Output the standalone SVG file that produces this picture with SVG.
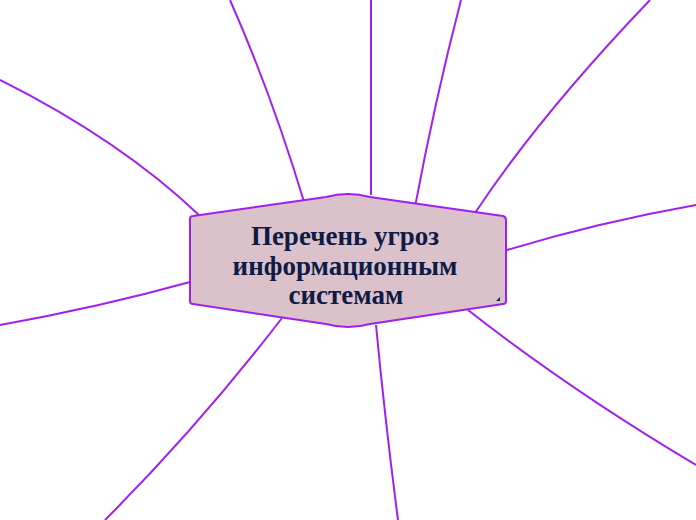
<svg xmlns="http://www.w3.org/2000/svg" width="696" height="520" viewBox="0 0 696 520">
<style>
.c{fill:none;stroke:#a020f0;stroke-width:2;}
.n{fill:#dbc1ca;stroke:#a020f0;stroke-width:2;stroke-linejoin:round;}
.t{font-family:"Liberation Serif","Times New Roman",serif;font-weight:bold;font-size:27px;fill:#0d1b45;text-anchor:middle;}
</style>
<rect width="696" height="520" fill="#ffffff"/>
<g id="connectors">
<path class="c" d="M0,80 Q120,140 200,216"/>
<path class="c" d="M230,0 Q272,95 305,205"/>
<path class="c" d="M371,0 L371,195"/>
<path class="c" d="M461,0 Q435,100 415,207"/>
<path class="c" d="M650,0 Q540,115 475,213"/>
<path class="c" d="M696,205 Q600,222 507,250"/>
<path class="c" d="M0,325 Q100,307 190,282"/>
<path class="c" d="M105,520 Q200,425 282,318"/>
<path class="c" d="M398,520 Q385,420 376,325"/>
<path class="c" d="M696,465 Q570,390 468,310"/>
</g>
<g id="node-center">
<path class="n" d="M193,216 L326,197 Q348,191 370,197 L503,216 Q506,217 506,220 L506,301 Q506,304 503,304 L370,324 Q348,330 326,324 L193,304 Q190,304 190,301 L190,219 Q190,216 193,216 Z"/>
<polygon points="500,297 500,301 496,301" fill="#1a2a4a"/>
<text class="t" x="345" y="245">Перечень угроз</text>
<text class="t" x="345" y="275">информационным</text>
<text class="t" x="346" y="304">системам</text>
</g>
</svg>
